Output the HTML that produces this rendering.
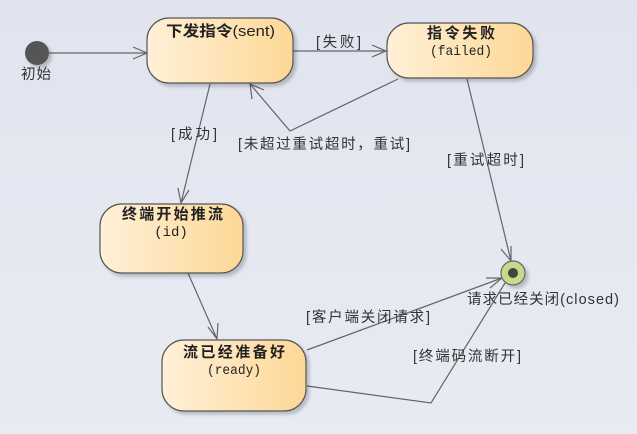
<!DOCTYPE html>
<html><head><meta charset="utf-8"><style>
html,body{margin:0;padding:0;width:637px;height:434px;overflow:hidden;background:#e5e7f1}
svg{display:block}
text{font-family:"Liberation Sans","Noto Sans CJK SC",sans-serif}
.t{font-weight:bold;font-size:15px;fill:#222}
.m{font-family:"Liberation Mono","Noto Sans CJK SC",monospace;font-size:14px;fill:#222}
.l{font-size:14.5px;fill:#333}
.ln{stroke:#666;stroke-width:1.2;fill:none}
</style></head><body>
<svg width="637" height="434" viewBox="0 0 637 434">
<defs>
<linearGradient id="g" x1="0" x2="1"><stop offset="0" stop-color="#fff0d8"/><stop offset="1" stop-color="#fdd896"/></linearGradient>
<linearGradient id="bg" x1="0" y1="0" x2="0" y2="1"><stop offset="0" stop-color="#e1e3ef"/><stop offset="1" stop-color="#e9ebf3"/></linearGradient>
<filter id="s" x="-10%" y="-10%" width="130%" height="130%"><feDropShadow dx="3" dy="3" stdDeviation="1.5" flood-color="#000" flood-opacity="0.2"/></filter>
</defs>
<rect width="637" height="434" fill="url(#bg)"/>
<path class="ln" d="M49 53 L147 53 M133 47 L147 53 L133 59"/>
<path class="ln" d="M293 51 L386 51 M372 45 L386 51 L372 57"/>
<text class="l" x="316" y="47" textLength="45" lengthAdjust="spacing">[失败]</text>
<path class="ln" d="M398 79 L290 131 L250 84 M252 99 L250 84 L264 90"/>
<text class="l" x="238" y="149" textLength="172" lengthAdjust="spacing">[未超过重试超时，重试]</text>
<path class="ln" d="M210 84 L181 203 M178 188 L181 203 L189 190"/>
<text class="l" x="171" y="139" textLength="46" lengthAdjust="spacing">[成功]</text>
<path class="ln" d="M467 79 L511 261 M501 249 L511 261 L511 246"/>
<text class="l" x="447" y="165" textLength="77" lengthAdjust="spacing">[重试超时]</text>
<path class="ln" d="M188 273 L217 339 M208 327 L217 339 L218 323"/>
<path class="ln" d="M307 350 L502 278 M486 278 L502 278 L490 288"/>
<text class="l" x="306" y="322" textLength="124" lengthAdjust="spacing">[客户端关闭请求]</text>
<path class="ln" d="M307 386 L431 403 L505 283"/>
<text class="l" x="413" y="361" textLength="108" lengthAdjust="spacing">[终端码流断开]</text>
<circle cx="37" cy="53" r="12" fill="#555" filter="url(#s)"/>
<text class="l" x="21" y="79" textLength="30" lengthAdjust="spacing">初始</text>
<g filter="url(#s)" stroke="#555" stroke-width="1.2" fill="url(#g)">
<rect x="147" y="18" width="146" height="65" rx="22"/>
<rect x="387" y="23" width="146" height="55" rx="22"/>
<rect x="100" y="204" width="143" height="69" rx="22"/>
<rect x="162" y="340" width="144" height="71" rx="22"/>
</g>
<text class="t" x="166" y="36" textLength="109" lengthAdjust="spacingAndGlyphs">下发指令<tspan font-weight="normal">(sent)</tspan></text>
<text class="t" x="427" y="38" textLength="68" lengthAdjust="spacing">指令失败</text>
<text class="m" x="430" y="55" textLength="62" lengthAdjust="spacingAndGlyphs">(failed)</text>
<text class="t" x="122" y="219" textLength="101" lengthAdjust="spacing">终端开始推流</text>
<text class="m" x="171" y="236" text-anchor="middle">(id)</text>
<text class="t" x="183" y="357" textLength="102" lengthAdjust="spacing">流已经准备好</text>
<text class="m" x="207" y="374" textLength="54" lengthAdjust="spacingAndGlyphs">(ready)</text>
<circle cx="513" cy="273" r="12" fill="#c4dc8a" stroke="#666" stroke-width="1.2" filter="url(#s)"/>
<circle cx="513" cy="273" r="5" fill="#444"/>
<text class="l" x="467" y="304" textLength="152" lengthAdjust="spacing">请求已经关闭(closed)</text>
</svg>
</body></html>
